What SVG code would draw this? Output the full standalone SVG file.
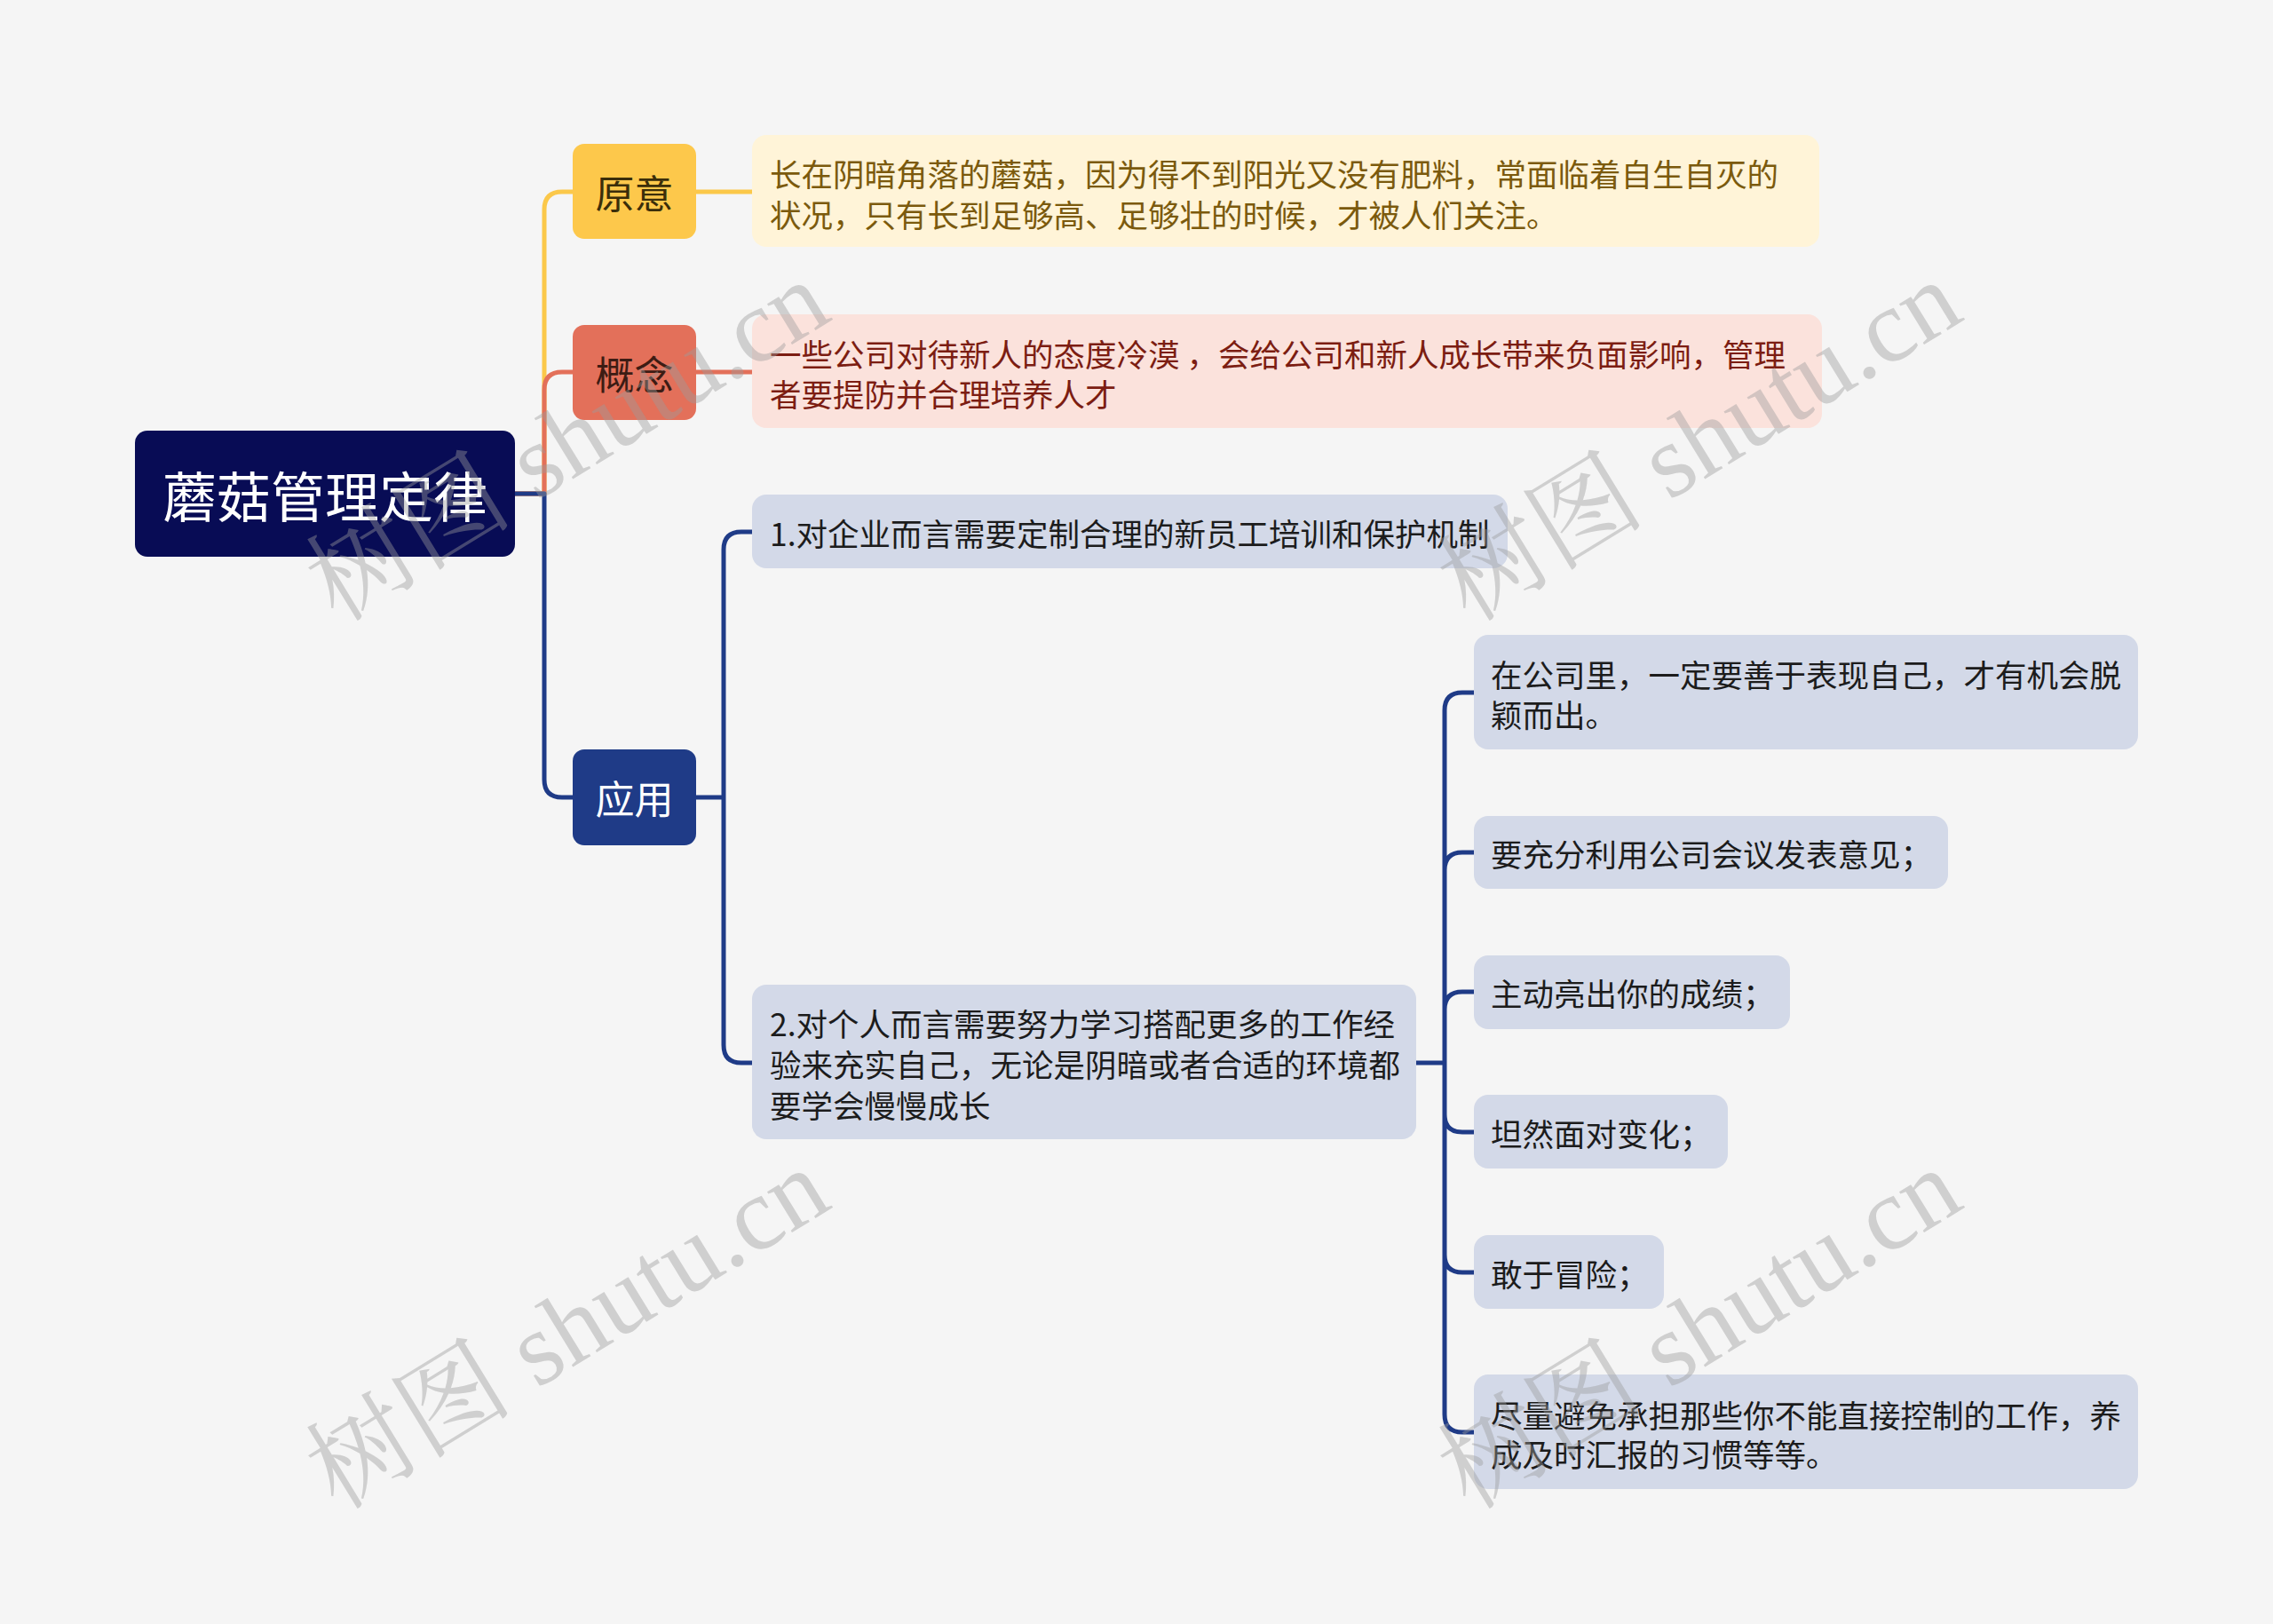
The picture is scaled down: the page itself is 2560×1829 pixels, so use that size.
<svg xmlns="http://www.w3.org/2000/svg" width="2560" height="1829" viewBox="0 0 2560 1829">
<style>
text{font-family:"Noto Sans CJK SC","Noto Sans",sans-serif;dominant-baseline:central}
.ln{fill:none;stroke-width:5;stroke-linejoin:round}
.t2{font-size:35.5px;fill:#1c1c1c}
.box{fill:#d3d9e8}
.wm{font-family:"Liberation Serif","Noto Serif CJK SC","Noto Sans CJK SC",serif;font-size:117px;fill:#9a9a9a;fill-opacity:0.42;dominant-baseline:auto}
</style>
<rect width="2560" height="1829" fill="#f5f5f5"/>
<g id="connectors">
<path class="ln" stroke="#fbc84a" d="M580,556 H613 V236 Q613,216 633,216 H645 M784,216 H847"/>
<path class="ln" stroke="#e3705a" d="M580,556 H613 V439 Q613,419 633,419 H645 M784,419 H847"/>
<path class="ln" stroke="#1f3b87" d="M580,556 H613 V878 Q613,898 633,898 H645"/>
<path class="ln" stroke="#1f3b87" d="M784,898 H815 M815,898 V619 Q815,599 835,599 H847 M815,898 V1177 Q815,1197 835,1197 H847"/>
<path class="ln" stroke="#1f3b87" d="M1595,1197 H1627 M1627,1197 V800 Q1627,780 1647,780 H1660 M1627,1197 V980 Q1627,960 1647,960 H1660 M1627,1197 V1137 Q1627,1117 1647,1117 H1660 M1627,1197 V1255 Q1627,1275 1647,1275 H1660 M1627,1197 V1413 Q1627,1433 1647,1433 H1660 M1627,1197 V1593 Q1627,1613 1647,1613 H1660"/>
</g>
<g id="root">
<rect x="152" y="485" width="428" height="142" rx="14" fill="#080c55"/>
<text x="366" y="556" font-size="61" fill="#ffffff" text-anchor="middle">蘑菇管理定律</text>
</g>
<g id="yuanyi">
<rect x="645" y="162" width="139" height="107" rx="13" fill="#fdc84b"/>
<text x="714.5" y="215.5" font-size="44" fill="#3b2e0a" text-anchor="middle">原意</text>
</g>
<g id="yuanyi-text">
<rect x="847" y="152" width="1202" height="126" rx="16" fill="#fff4d8"/>
<text x="867" y="194" font-size="35.5" fill="#7b5a0d">长在阴暗角落的蘑菇，因为得不到阳光又没有肥料，常面临着自生自灭的</text>
<text x="867" y="240" font-size="35.5" fill="#7b5a0d">状况，只有长到足够高、足够壮的时候，才被人们关注。</text>
</g>
<g id="gainian">
<rect x="645" y="366" width="139" height="107" rx="13" fill="#e3705a"/>
<text x="714.5" y="419.5" font-size="44" fill="#3d1c14" text-anchor="middle">概念</text>
</g>
<g id="gainian-text">
<rect x="847" y="354" width="1205" height="128" rx="16" fill="#fbe2dc"/>
<text x="867" y="397" font-size="35.5" fill="#7c1d12">一些公司对待新人的态度冷漠 ，会给公司和新人成长带来负面影响，管理</text>
<text x="867" y="442" font-size="35.5" fill="#7c1d12">者要提防并合理培养人才</text>
</g>
<g id="yingyong">
<rect x="645" y="844" width="139" height="108" rx="13" fill="#1f3b87"/>
<text x="714.5" y="898" font-size="44" fill="#ffffff" text-anchor="middle">应用</text>
</g>
<g id="app1">
<rect class="box" x="847" y="557" width="851" height="83" rx="16"/>
<text class="t2" x="867" y="599">1.对企业而言需要定制合理的新员工培训和保护机制</text>
</g>
<g id="app2">
<rect class="box" x="847" y="1109" width="748" height="174" rx="16"/>
<text class="t2" x="867" y="1151">2.对个人而言需要努力学习搭配更多的工作经</text>
<text class="t2" x="867" y="1197">验来充实自己，无论是阴暗或者合适的环境都</text>
<text class="t2" x="867" y="1243">要学会慢慢成长</text>
</g>
<g id="tip1">
<rect class="box" x="1660" y="715" width="748" height="129" rx="16"/>
<text class="t2" x="1679" y="758">在公司里，一定要善于表现自己，才有机会脱</text>
<text class="t2" x="1679" y="803">颖而出。</text>
</g>
<g id="tip2">
<rect class="box" x="1660" y="919" width="534" height="82" rx="16"/>
<text class="t2" x="1679" y="960">要充分利用公司会议发表意见；</text>
</g>
<g id="tip3">
<rect class="box" x="1660" y="1076" width="356" height="83" rx="16"/>
<text class="t2" x="1679" y="1117">主动亮出你的成绩；</text>
</g>
<g id="tip4">
<rect class="box" x="1660" y="1233" width="286" height="83" rx="16"/>
<text class="t2" x="1679" y="1275">坦然面对变化；</text>
</g>
<g id="tip5">
<rect class="box" x="1660" y="1391" width="214" height="83" rx="16"/>
<text class="t2" x="1679" y="1433">敢于冒险；</text>
</g>
<g id="tip6">
<rect class="box" x="1660" y="1548" width="748" height="129" rx="16"/>
<text class="t2" x="1679" y="1592">尽量避免承担那些你不能直接控制的工作，养</text>
<text class="t2" x="1679" y="1636">成及时汇报的习惯等等。</text>
</g>
<g id="watermarks">
<text class="wm" transform="translate(380,702) rotate(-31.5)">树图 shutu.cn</text>
<text class="wm" transform="translate(1655,702) rotate(-31.5)">树图 shutu.cn</text>
<text class="wm" transform="translate(380,1702) rotate(-31.5)">树图 shutu.cn</text>
<text class="wm" transform="translate(1655,1702) rotate(-31.5)">树图 shutu.cn</text>
</g>
</svg>
